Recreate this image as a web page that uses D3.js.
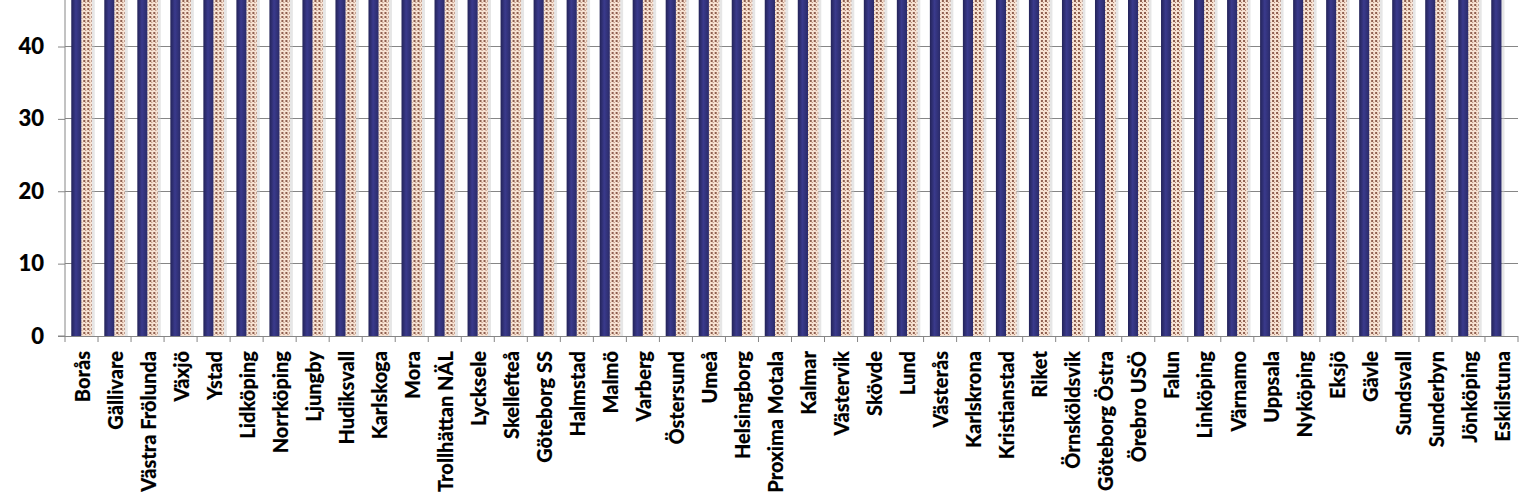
<!DOCTYPE html>
<html>
<head>
<meta charset="utf-8">
<script src="https://cdn.jsdelivr.net/npm/d3@7"></script>
<style>
  html, body { margin: 0; padding: 0; background: #fff; }
  svg { display: block; }
  text { font-family: Lato, "Open Sans", sans-serif; font-weight: 900; fill: #000; stroke: #000; stroke-width: 0.15px; }
</style>
</head>
<body>
<svg id="chart" width="1526" height="498"></svg>
<script>
// ---- data ----
const categories = ["Borås","Gällivare","Västra Frölunda","Växjö","Ystad","Lidköping","Norrköping","Ljungby","Hudiksvall","Karlskoga","Mora","Trollhättan NÄL","Lycksele","Skellefteå","Göteborg SS","Halmstad","Malmö","Varberg","Östersund","Umeå","Helsingborg","Proxima Motala","Kalmar","Västervik","Skövde","Lund","Västerås","Karlskrona","Kristianstad","Riket","Örnsköldsvik","Göteborg Östra","Örebro USÖ","Falun","Linköping","Värnamo","Uppsala","Nyköping","Eksjö","Gävle","Sundsvall","Sunderbyn","Jönköping","Eskilstuna"];
// values are above the visible part of the picture (> 46); estimates
const series1 = [88,87,87,86,86,85,85,85,84,84,84,83,83,83,82,82,82,81,81,81,80,80,80,79,79,79,78,78,77,77,77,76,76,75,75,74,74,73,72,72,71,70,69,66];
const series2 = [86,85,88,84,87,83,86,84,85,82,83,84,81,82,83,80,81,82,79,80,81,78,79,80,77,78,79,76,77,75,76,77,74,75,73,74,72,73,71,70,71,68,67,null];
const seriesNames = ["Serie 1","Serie 2"];
const yTicks = [0,10,20,30,40];

// ---- layout ----
const svg = d3.select("#chart");
const left = 65, right = 1518, bottom = 336;

const y = d3.scaleLinear().domain([0, 40]).range([bottom, 46.5]);
const x0 = d3.scaleBand().domain(categories).range([left, right])
  .paddingInner(0.38).paddingOuter(0.19);
const x1 = d3.scaleBand().domain(seriesNames).range([0, x0.bandwidth()]).padding(0);

const defs = svg.append("defs");
const grad = defs.append("linearGradient").attr("id","navy").attr("x1","0").attr("x2","1").attr("y1","0").attr("y2","0");
grad.append("stop").attr("offset","0%").attr("stop-color","#232358");
grad.append("stop").attr("offset","45%").attr("stop-color","#3a3a8c");
grad.append("stop").attr("offset","100%").attr("stop-color","#2a2a68");

const pat = defs.append("pattern").attr("id","dots").attr("patternUnits","userSpaceOnUse")
  .attr("width",4).attr("height",4);
pat.append("rect").attr("width",4).attr("height",4).attr("fill","#f7e2d2");
pat.append("rect").attr("x",0).attr("y",0).attr("width",2).attr("height",2).attr("fill","#8e5e4e");
pat.append("rect").attr("x",2).attr("y",2).attr("width",1).attr("height",1).attr("fill","#b08270");

// gridlines
svg.append("g").selectAll("line").data(yTicks.filter(d => d > 0)).join("line")
  .attr("x1", left).attr("x2", right)
  .attr("y1", d => y(d)).attr("y2", d => y(d))
  .attr("stroke", "#868686").attr("stroke-width", 1).attr("shape-rendering","crispEdges");

const groups = svg.append("g").selectAll("g").data(categories).join("g")
  .attr("transform", d => `translate(${x0(d)},0)`);

groups.each(function(c, i) {
  const g = d3.select(this);
  const vals = [series1[i], series2[i]];
  const lastIdx = vals[1] == null ? 0 : 1;
  const sv = vals[lastIdx];
  g.append("rect")
    .attr("x", x1(seriesNames[lastIdx]) + x1.bandwidth())
    .attr("width", 3)
    .attr("y", y(sv) + 2)
    .attr("height", y(0) - y(sv) - 2)
    .attr("fill", "#c8c8c8").attr("opacity", 0.45);
  vals.forEach((v, k) => {
    if (v == null) return;
    g.append("rect")
      .attr("x", x1(seriesNames[k]))
      .attr("width", x1.bandwidth())
      .attr("y", y(v))
      .attr("height", y(0) - y(v))
      .attr("fill", k === 0 ? "url(#navy)" : "url(#dots)");
  });
});

// y axis
const yAxis = d3.axisLeft(y).tickValues(yTicks).tickSize(7).tickPadding(14).tickFormat(d3.format("d"));
const ya = svg.append("g").attr("transform", `translate(${left},0)`).call(yAxis);
ya.select(".domain").attr("stroke", "#868686").attr("d", `M-7,${y(0)}H0V0`);
ya.selectAll(".tick line").attr("stroke", "#868686");
ya.selectAll(".tick text").attr("font-size", 22).attr("font-weight", 900)
  .style("font-family", "Lato, sans-serif").attr("fill", "#000");

// x axis
const xa = svg.append("g").attr("transform", `translate(0,${bottom})`);
xa.append("line").attr("x1", left).attr("x2", right).attr("y1", 0).attr("y2", 0)
  .attr("stroke", "#868686").attr("shape-rendering","crispEdges");
const step = x0.step();
const boundaries = categories.map(c => x0(c) - step * 0.19).concat([right]);
xa.selectAll("line.tk").data(boundaries).join("line").attr("class","tk")
  .attr("x1", d => d).attr("x2", d => d).attr("y1", 0).attr("y2", 6)
  .attr("stroke", "#868686");

xa.selectAll("text").data(categories).join("text")
  .attr("transform", d => `translate(${x0(d) + x0.bandwidth()/2 + 1},15) rotate(-90)`)
  .attr("text-anchor", "end")
  .attr("dy", "0.36em")
  .attr("font-size", 20)
  .text(d => d);
</script>
</body>
</html>
